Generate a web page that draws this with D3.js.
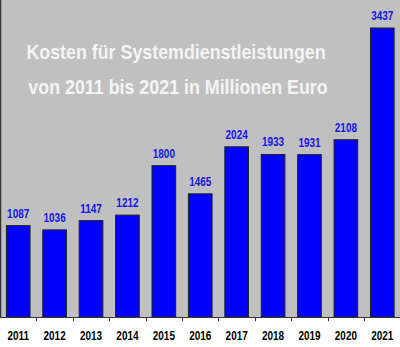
<!DOCTYPE html>
<html><head><meta charset="utf-8">
<script src="https://cdn.jsdelivr.net/npm/d3@7"></script>
<style>html,body{margin:0;padding:0;background:#fff;}svg{display:block;}</style>
</head><body>
<svg id="c" width="400" height="347"></svg>
<script>
const years = ["2011","2012","2013","2014","2015","2016","2017","2018","2019","2020","2021"];
const values = [1087,1036,1147,1212,1800,1465,2024,1933,1931,2108,3437];
const titleLines = ["Kosten für Systemdienstleistungen","von 2011 bis 2021 in Millionen Euro"];

const W = 400, H = 347;
const svg = d3.select("#c");
const baseY = 317;
const x = d3.scaleBand().domain(years).range([0, 400.5]).paddingInner(0.35).paddingOuter(0.175);
const y = d3.scaleLinear().domain([0, 3770]).range([baseY, 0]);

// plot background
svg.append("rect").attr("x",0).attr("y",0).attr("width",W).attr("height",baseY).attr("fill","#c0c0c0");
svg.append("rect").attr("x",0).attr("y",baseY).attr("width",W).attr("height",H-baseY).attr("fill","#ffffff");

// left axis line
svg.append("line").attr("x1",0.5).attr("x2",0.5).attr("y1",0).attr("y2",baseY).attr("stroke","#333").attr("stroke-width",1.5);

const font = "'Liberation Sans', Arial, sans-serif";
function condText(g, tx, ty, txt, size, fill, sx){
  return g.append("text")
    .attr("transform", `translate(${tx},${ty}) scale(${sx},1)`)
    .attr("text-anchor","middle")
    .attr("font-family",font).attr("font-weight","bold")
    .attr("font-size",size).attr("fill",fill).text(txt);
}

// title
condText(svg, 176, 59, titleLines[0], 21, "#f4f4f4", 0.85);
condText(svg, 178, 94, titleLines[1], 21, "#f4f4f4", 0.85);

// bars
svg.selectAll("rect.bar").data(values).join("rect").attr("class","bar")
  .attr("x",(d,i)=>x(years[i])).attr("width",x.bandwidth())
  .attr("y",d=>y(d)).attr("height",d=>baseY-y(d))
  .attr("fill","#0000ff").attr("stroke","#222").attr("stroke-width",1);

// value labels
values.forEach((v,i)=>{
  condText(svg, x(years[i])+x.bandwidth()/2, y(v)-8, String(v), 12.5, "#1414e6", 0.8);
});

// x axis
const ag = svg.append("g").attr("transform",`translate(0,${baseY})`);
ag.append("line").attr("x1",0).attr("x2",W).attr("y1",0.5).attr("y2",0.5).attr("stroke","#333").attr("stroke-width",1);
const step = x.step();
years.slice(1).forEach((yr,i)=>{
  const bx = Math.round(x(yr) - (step - x.bandwidth())/2) + 0.5;
  ag.append("line").attr("x1",bx).attr("x2",bx).attr("y1",0).attr("y2",4).attr("stroke","#333");
});
years.forEach(yr=>{
  condText(svg, x(yr)+x.bandwidth()/2, 339.5, yr, 12, "#000", 0.83);
});
</script>
</body></html>
